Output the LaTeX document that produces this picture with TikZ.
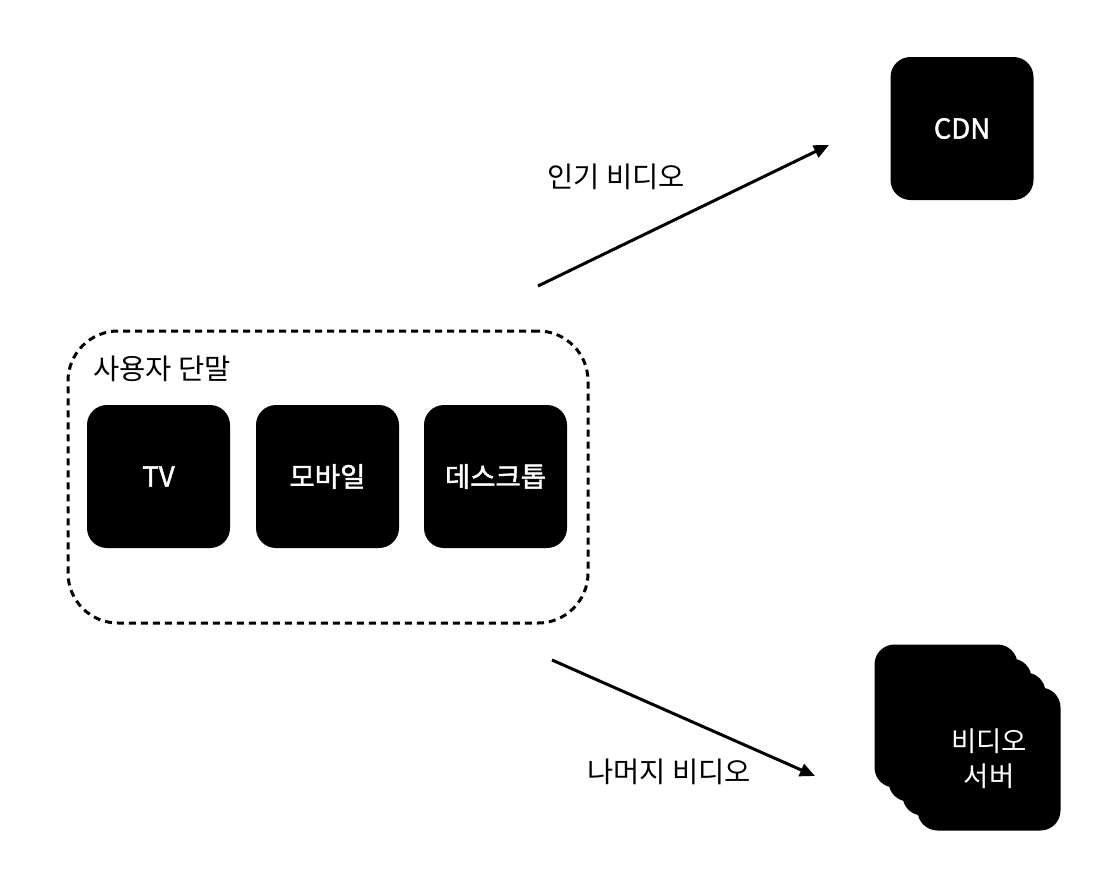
\documentclass[tikz,border=0pt]{standalone}
\usepackage{fontspec}
\newfontfamily\kr{Noto Sans CJK KR}
\newfontfamily\krb[FakeBold=1.6]{Noto Sans CJK KR}
\usetikzlibrary{arrows.meta}
\begin{document}
\begin{tikzpicture}[x=1pt,y=-1pt,
  blackbox/.style={fill=black,draw=none,rounded corners=20pt,minimum width=143pt,minimum height=143pt,inner sep=0pt,text=white,font=\krb\fontsize{27.5}{33}\selectfont,align=center},
  lbl/.style={font=\kr\fontsize{28.5}{33}\selectfont,inner sep=0pt},
  conn/.style={line width=3pt,-{Triangle[length=15pt,width=13pt]}}]
\useasboundingbox (0,0) rectangle (1108,894);
% user devices group
\node[draw=black,line width=3pt,dash pattern=on 7pt off 5pt,rounded corners=50pt,minimum width=520pt,minimum height=292pt,inner sep=0pt] (grp) at (328,477) {};
\node[lbl,anchor=west] (grplbl) at (93,369) {사용자 단말};
\node[blackbox] (tv) at (158.5,476.5) {TV};
\node[blackbox] (mob) at (327.5,476.5) {모바일};
\node[blackbox] (desk) at (495.5,476.5) {데스크톱};
% CDN
\node[blackbox] (cdn) at (962,128.5) {CDN};
% video servers stack
\node[blackbox] (vs1) at (946,716) {};
\node[blackbox] (vs2) at (960,730) {};
\node[blackbox] (vs3) at (974,744) {};
\node[blackbox,font=\kr\fontsize{27.5}{35}\selectfont] (vs4) at (989,759) {비디오\\서버};
% connectors
\coordinate (a1s) at (538,286);
\coordinate (a1e) at (829,145);
\coordinate (a2s) at (552,660);
\coordinate (a2e) at (815,776);
\draw[conn] (a1s) -- (a1e);
\draw[conn] (a2s) -- (a2e);
\node[lbl] (l1) at (616,177) {인기 비디오};
\node[lbl] (l2) at (669,772) {나머지 비디오};
\end{tikzpicture}
\end{document}
